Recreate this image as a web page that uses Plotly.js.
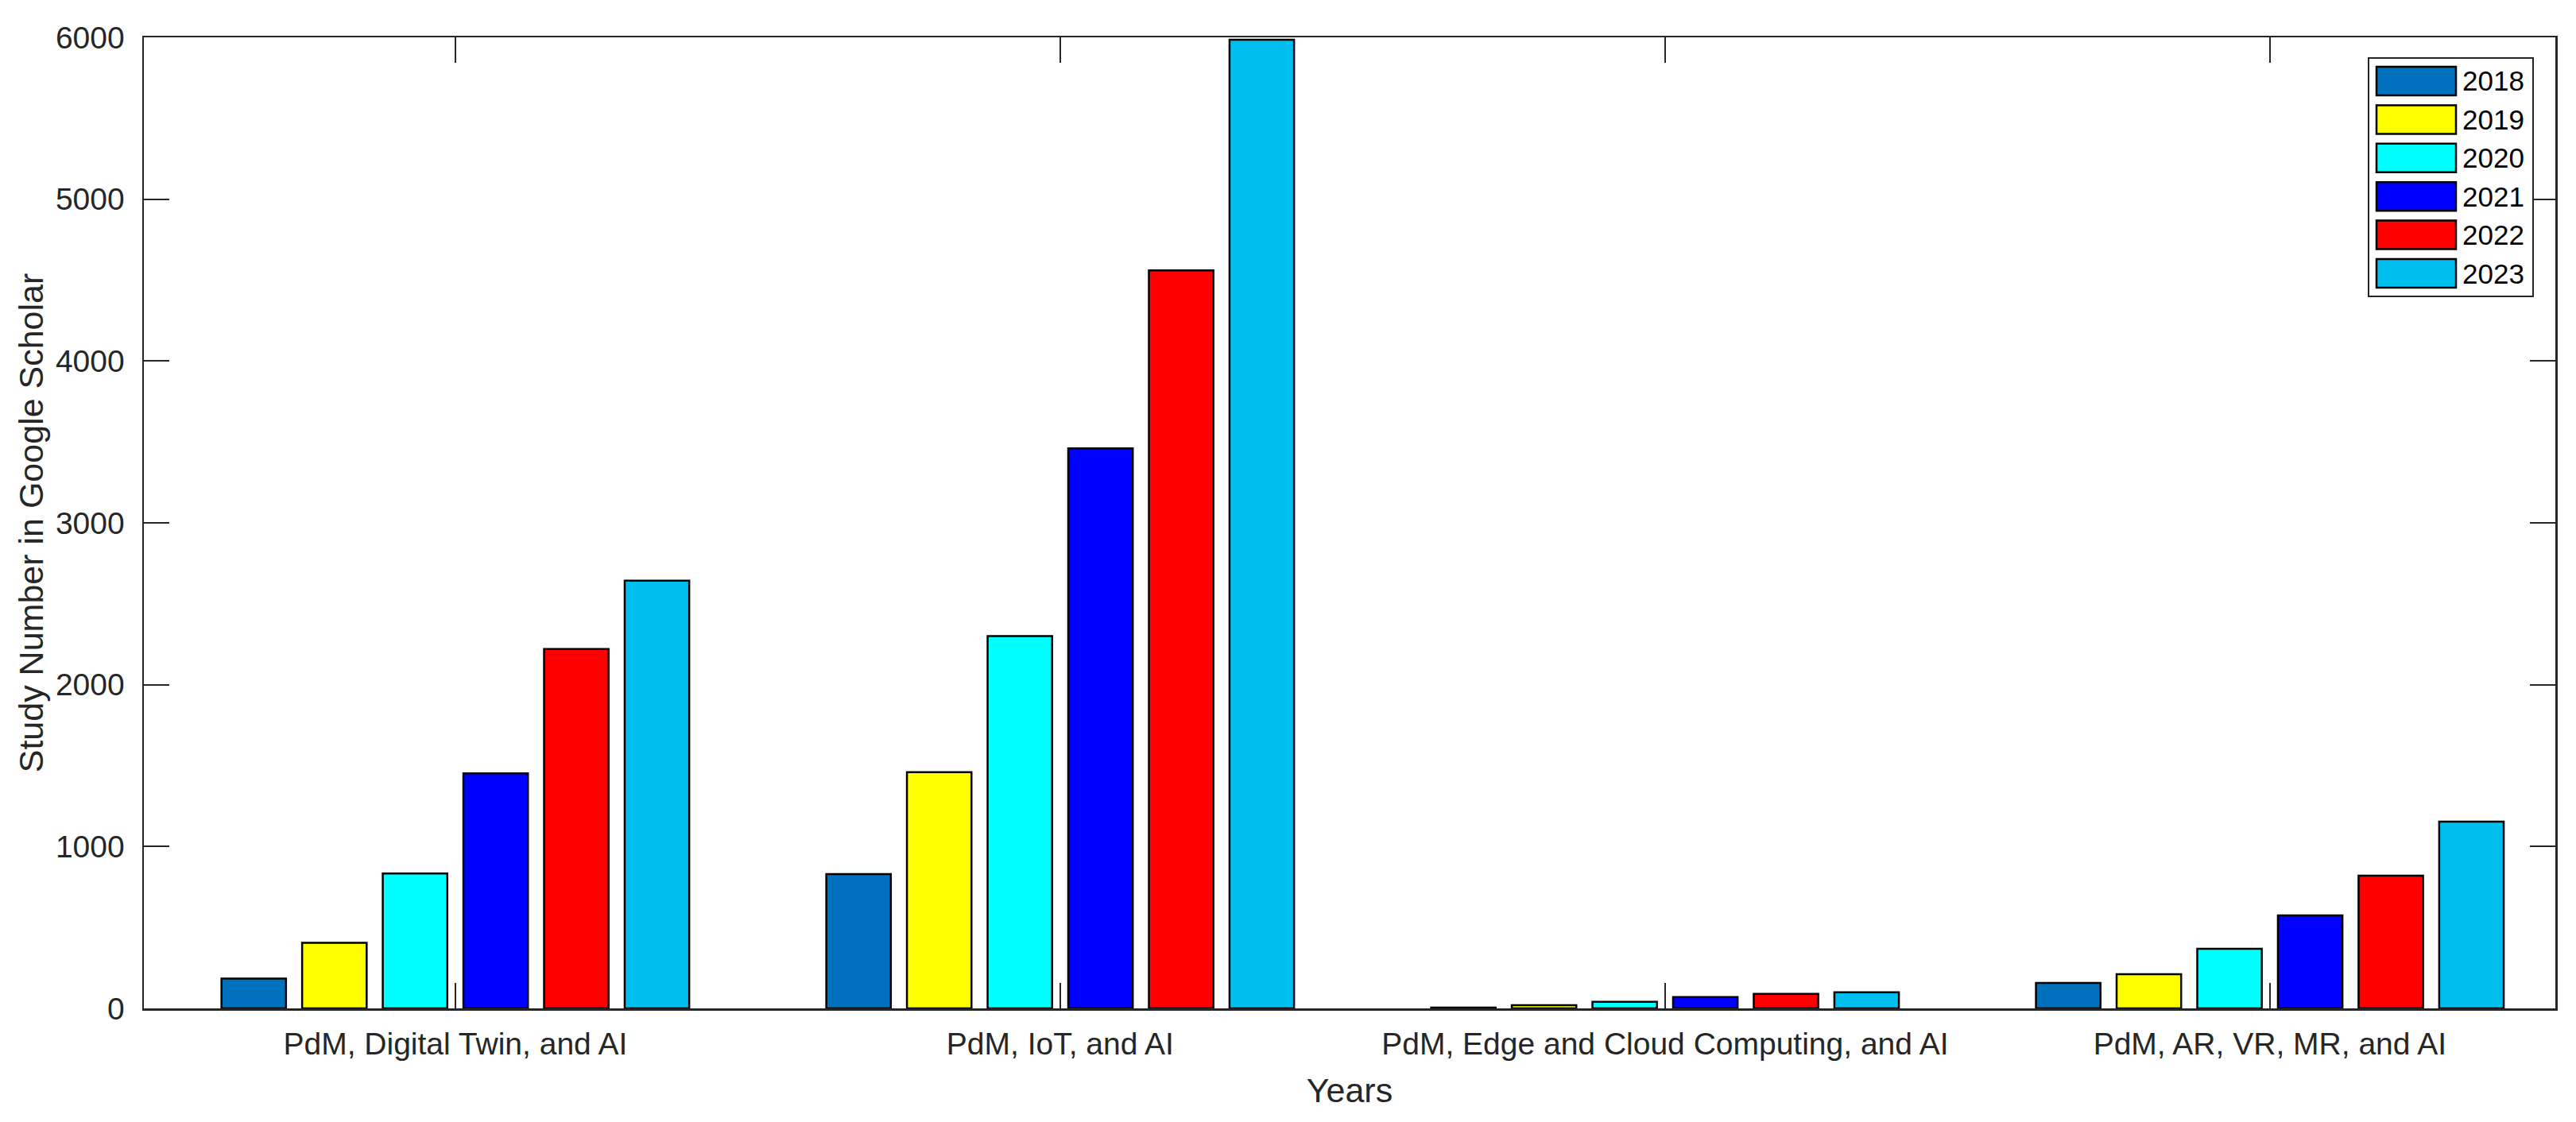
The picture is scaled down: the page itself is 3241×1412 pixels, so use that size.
<!DOCTYPE html>
<html>
<head>
<meta charset="utf-8">
<script src="https://cdn.plot.ly/plotly-3.0.1.min.js"></script>
<style>
  html, body { margin: 0; padding: 0; background: #fff; }
  #chart { width: 3241px; height: 1412px; }
</style>
</head>
<body>
<div id="chart"></div>
<script>
// Chart data
const categories = [
    'PdM, Digital Twin, and AI',
    'PdM, IoT, and AI',
    'PdM, Edge and Cloud Computing, and AI',
    'PdM, AR, VR, MR, and AI'
];
const years = ['2018', '2019', '2020', '2021', '2022', '2023'];

const v2018 = [184, 830, 5, 157];
const v2019 = [405, 1460, 20, 211];
const v2020 = [833, 2300, 40, 368];
const v2021 = [1452, 3460, 70, 574];
const v2022 = [2221, 4560, 90, 820];
const v2023 = [2643, 5985, 100, 1154];

const yTicks = [0, 1000, 2000, 3000, 4000, 5000, 6000];

const seriesValues = [v2018, v2019, v2020, v2021, v2022, v2023];
const colors = ['#0072BD', '#FFFF00', '#00FFFF', '#0000FF', '#FF0000', '#00BFEF'];

const W = 3241, H = 1412;
const margin = { l: 181, r: 26, t: 47, b: 143 };
const plotW = W - margin.l - margin.r;
const plotH = H - margin.t - margin.b;
const axisColor = '#262626';
const font = '"Liberation Sans", Arial, Helvetica, sans-serif';

// pixel -> paper helpers (for the hand made legend)
const px = x => (x - margin.l) / plotW;
const py = y => (H - margin.b - y) / plotH;

const traces = years.map((yr, i) => ({
    type: 'bar',
    name: yr,
    x: categories,
    y: seriesValues[i],
    marker: { color: colors[i], line: { color: '#000', width: 2.5 } },
    showlegend: false,
    hoverinfo: 'x+y+name'
}));

// Legend drawn as shapes + annotations so the swatches get MATLAB size
const shapes = [];
const annotations = [];
shapes.push({
    type: 'rect', xref: 'paper', yref: 'paper',
    x0: px(2980), x1: px(3187), y0: py(373), y1: py(73),
    line: { color: axisColor, width: 2 }, fillcolor: '#fff', layer: 'above'
});
years.forEach((yr, i) => {
    const cy = 102 + i * 48.4;
    shapes.push({
        type: 'rect', xref: 'paper', yref: 'paper',
        x0: px(2990), x1: px(3090), y0: py(cy + 18), y1: py(cy - 18),
        line: { color: '#000', width: 2.5 }, fillcolor: colors[i], layer: 'above'
    });
    annotations.push({
        xref: 'paper', yref: 'paper', x: px(3096), y: py(cy),
        xanchor: 'left', yanchor: 'middle', showarrow: false,
        text: yr, font: { family: font, size: 35, color: '#000' }
    });
});

const layout = {
    width: W,
    height: H,
    margin: margin,
    paper_bgcolor: '#fff',
    plot_bgcolor: '#fff',
    barmode: 'group',
    bargap: 0.2,
    bargroupgap: 0.2,
    font: { family: font, size: 39, color: axisColor },
    xaxis: {
        type: 'category',
        range: [-0.515, 3.472],
        showline: true, linecolor: axisColor, linewidth: 2.5,
        mirror: 'ticks',
        ticks: 'inside', ticklen: 32, tickwidth: 1.5, tickcolor: axisColor,
        ticklabelstandoff: 9,
        showgrid: false, zeroline: false,
        tickfont: { family: font, size: 39, color: axisColor },
        title: { text: 'Years', font: { family: font, size: 43, color: axisColor }, standoff: 23 },
        automargin: false
    },
    yaxis: {
        range: [0, 6000],
        tickvals: yTicks,
        showline: true, linecolor: axisColor, linewidth: 2.5,
        mirror: 'ticks',
        ticks: 'inside', ticklen: 32, tickwidth: 2, tickcolor: axisColor,
        ticklabelstandoff: 14,
        showgrid: false, zeroline: false,
        tickfont: { family: font, size: 39, color: axisColor },
        title: { text: 'Study Number in Google Scholar', font: { family: font, size: 43, color: axisColor }, standoff: 2 },
        automargin: false
    },
    shapes: shapes,
    annotations: annotations
};

Plotly.newPlot('chart', traces, layout, { staticPlot: true });
</script>
</body>
</html>
